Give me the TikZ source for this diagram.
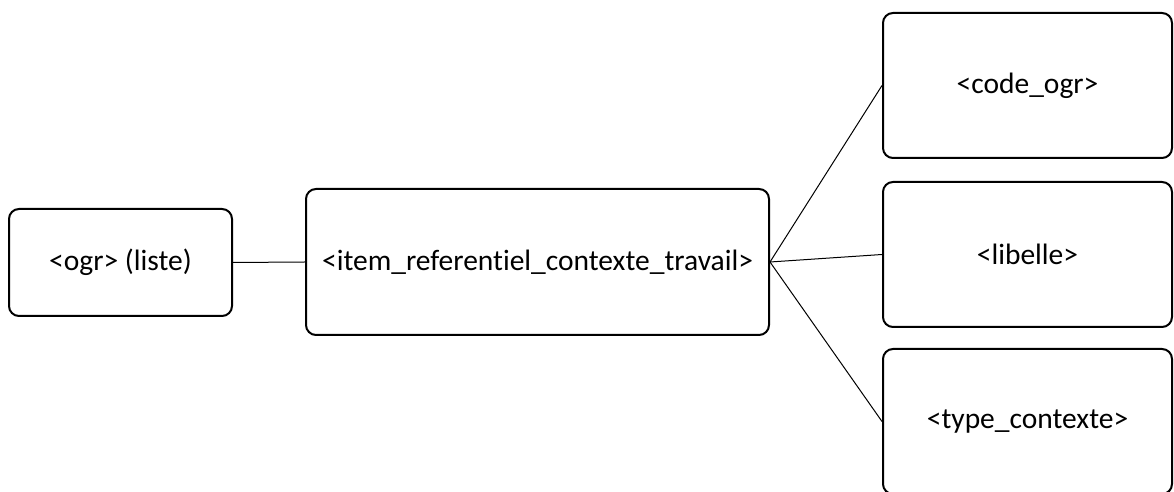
\documentclass[tikz,border=0pt]{standalone}
\usepackage{fontspec}
\setmainfont[Ligatures={NoCommon}]{Carlito}
\begin{document}
\begin{tikzpicture}[x=1pt,y=1pt,
  box/.style={draw=black, line width=2pt, rounded corners=10pt, inner sep=0pt, fill=white,
    font=\fontsize{29.5}{34}\selectfont},
  link/.style={draw=black, line width=1pt}]
\useasboundingbox (0,0) rectangle (1174,492);
\node[box, minimum width=223, minimum height=107] (ogr) at (120.5,229.5) {<ogr> (liste)};
\node[box, minimum width=463, minimum height=146] (item) at (537.5,230) {<item\_referentiel\_contexte\_travail>};
\node[box, minimum width=289, minimum height=145] (code) at (1027.5,406.5) {<code\_ogr>};
\node[box, minimum width=289, minimum height=145] (lib) at (1027.5,237.5) {<libelle>};
\node[box, minimum width=289, minimum height=145] (type) at (1027.5,70.5) {<type\_contexte>};
\draw[link] (ogr.east) -- (item.west);
\draw[link] (item.east) -- (code.west);
\draw[link] (item.east) -- (lib.west);
\draw[link] (item.east) -- (type.west);
\end{tikzpicture}
\end{document}
